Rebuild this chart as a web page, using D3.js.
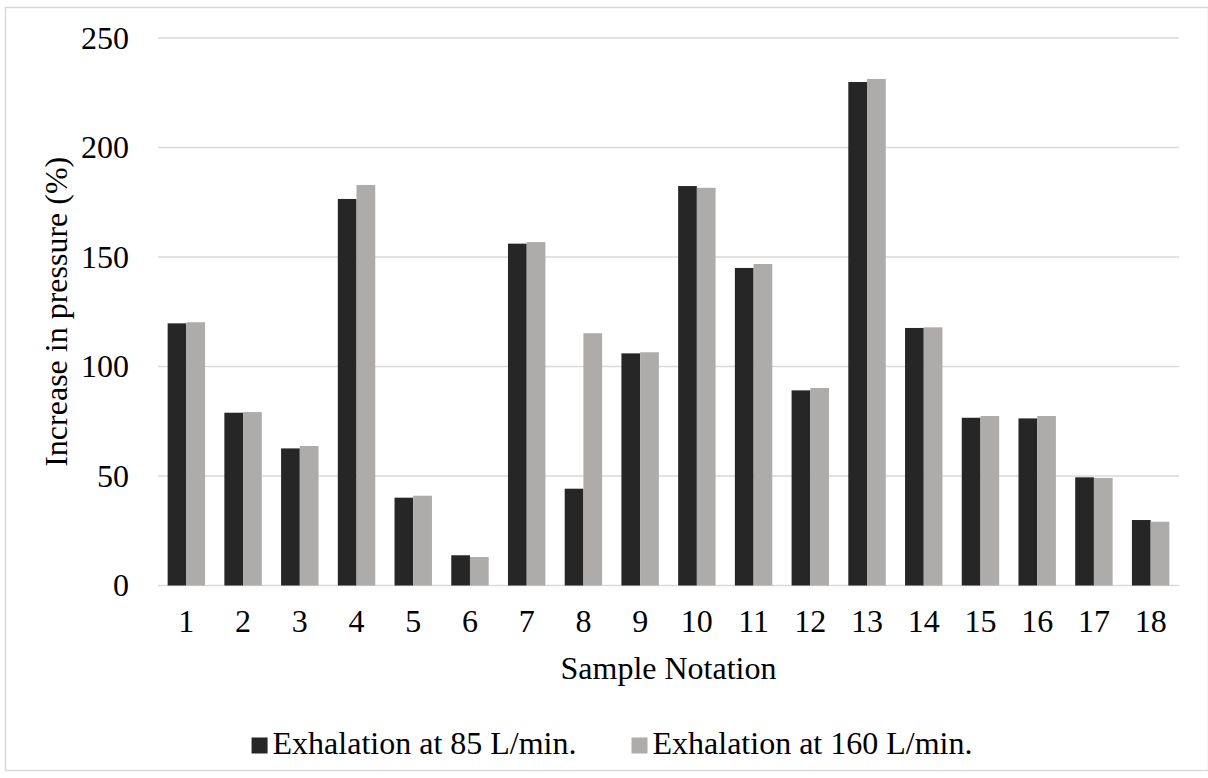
<!DOCTYPE html>
<html>
<head>
<meta charset="utf-8">
<script src="https://cdn.jsdelivr.net/npm/d3@7"></script>
<style>
  html, body { margin: 0; padding: 0; background: #fff; }
  svg { display: block; }
  svg text { font-family: 'Liberation Serif', 'DejaVu Serif', 'Times New Roman', serif !important; fill: #000; }
</style>
</head>
<body>
<svg id="chart" width="1208" height="778"></svg>
<script>
const categories = ["1","2","3","4","5","6","7","8","9","10","11","12","13","14","15","16","17","18"];
const seriesNames = ["Exhalation at 85 L/min.", "Exhalation at 160 L/min."];
const exhalation85 = [119.7, 78.9, 62.6, 176.5, 40.1, 13.8, 156.1, 44.2, 106.0, 182.4, 145.0, 89.1, 229.9, 117.6, 76.6, 76.3, 49.4, 29.9];
const exhalation160 = [120.2, 79.2, 63.7, 182.9, 41.0, 13.0, 156.8, 115.2, 106.5, 181.6, 146.8, 90.2, 231.3, 117.9, 77.4, 77.4, 49.1, 29.1];
const yTicks = [0, 50, 100, 150, 200, 250];
const colors = ["#262626", "#AEABAB"];
const xTitle = "Sample Notation";
const yTitle = "Increase in pressure (%)";

const FONT = "'Liberation Serif', 'DejaVu Serif', serif";
const svg = d3.select("#chart");
const plot = { left: 158, right: 1179, top: 38, bottom: 585.5 };

// outer border
svg.append("rect")
  .attr("x", 5.5).attr("y", 7.5)
  .attr("width", 1203).attr("height", 763)
  .attr("fill", "#fff").attr("stroke", "#d9d9d9").attr("stroke-width", 1.5);

const x = d3.scaleBand().domain(categories)
  .range([plot.left, plot.right]).paddingInner(0.34).paddingOuter(0.17);
const xs = d3.scaleBand().domain([0, 1]).range([0, x.bandwidth()]);
const y = d3.scaleLinear().domain([0, 250]).range([plot.bottom, plot.top]);

// gridlines
svg.append("g").selectAll("line").data(yTicks).join("line")
  .attr("x1", plot.left).attr("x2", plot.right)
  .attr("y1", d => y(d)).attr("y2", d => y(d))
  .attr("stroke", "#d9d9d9").attr("stroke-width", 1.5);

// bars
const series = [exhalation85, exhalation160];
series.forEach((vals, si) => {
  svg.append("g").selectAll("rect").data(vals).join("rect")
    .attr("x", (d, i) => x(categories[i]) + xs(si))
    .attr("width", xs.bandwidth())
    .attr("y", d => y(d))
    .attr("height", d => y(0) - y(d))
    .attr("fill", colors[si]);
});

// y axis labels
const yAxis = d3.axisLeft(y).tickValues(yTicks).tickSize(0).tickPadding(29);
const gy = svg.append("g").attr("transform", `translate(${plot.left},0)`).call(yAxis);
gy.attr("font-family", FONT).attr("font-size", 32);
gy.select(".domain").remove();
gy.selectAll("text").attr("fill", "#000");

// x axis
const xAxis = d3.axisBottom(x).tickSize(0).tickPadding(24);
const gx = svg.append("g").attr("transform", `translate(0,${plot.bottom})`).call(xAxis);
gx.attr("font-family", FONT).attr("font-size", 32);
gx.select(".domain").remove();
gx.selectAll("text").attr("fill", "#000");

// x title
svg.append("text")
  .attr("x", (plot.left + plot.right) / 2).attr("y", 679)
  .attr("text-anchor", "middle").attr("font-family", FONT).attr("font-size", 32)
  .text(xTitle);

// y title
svg.append("text")
  .attr("transform", `translate(66.5,${(plot.top + plot.bottom) / 2}) rotate(-90)`)
  .attr("text-anchor", "middle").attr("font-family", FONT).attr("font-size", 32)
  .text(yTitle);

// legend
const legend = svg.append("g").attr("font-family", FONT).attr("font-size", 32);
const items = legend.selectAll("g").data(seriesNames).join("g");
items.append("rect").attr("width", 16).attr("height", 16).attr("y", -16.5)
  .attr("fill", (d, i) => colors[i]);
items.append("text").attr("x", 21).attr("y", 0).text(d => d);
const widths = [];
items.each(function () { widths.push(this.getBBox().width); });
const gap = 55;
const total = d3.sum(widths) + gap * (widths.length - 1);
const startX = 612 - total / 2;
items.attr("transform", (d, i) => {
  const tx = startX + d3.sum(widths.slice(0, i)) + gap * i;
  return `translate(${tx},754)`;
});
</script>
</body>
</html>
